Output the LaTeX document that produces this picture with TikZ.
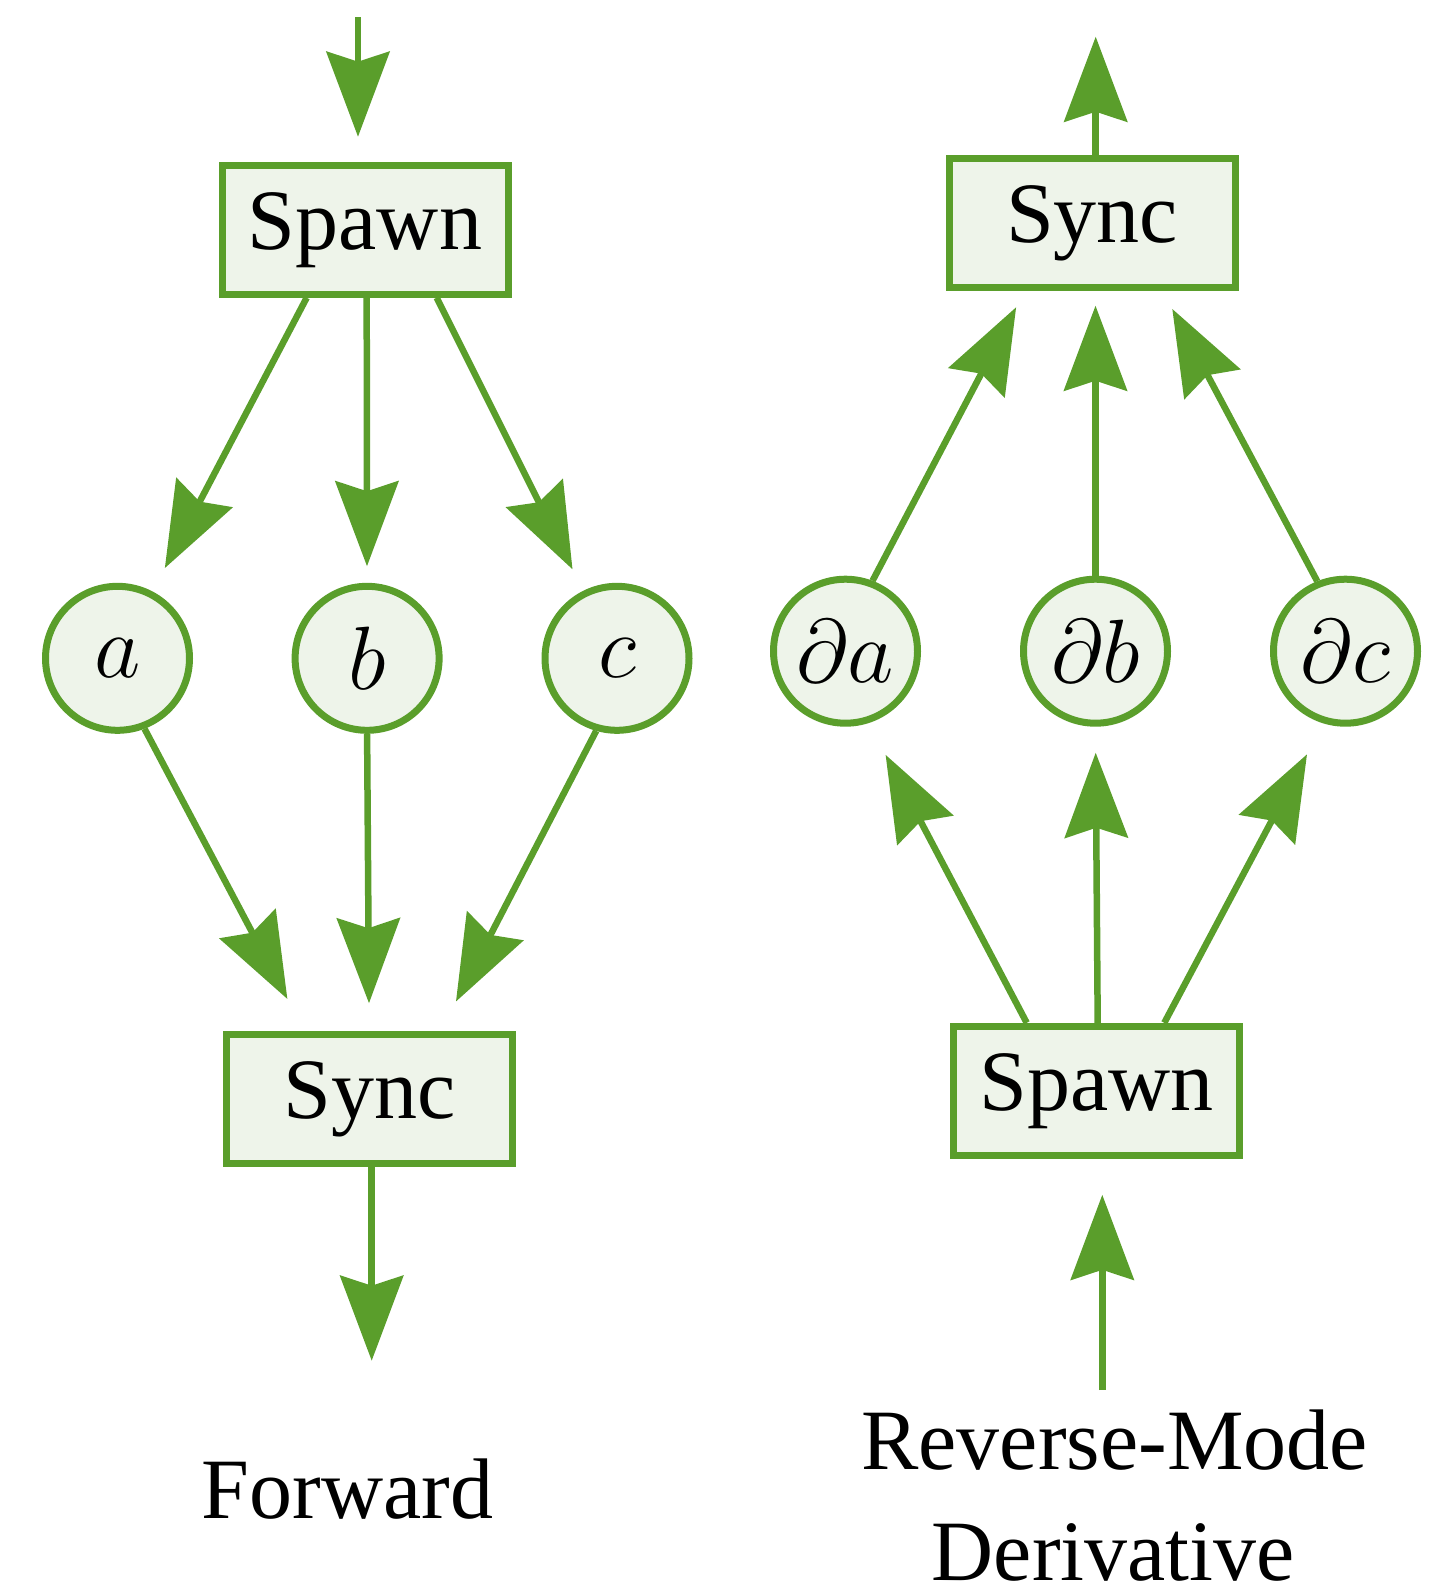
\RequirePackage{fix-cm}
\documentclass[tikz,border=0pt]{standalone}
\usepackage{fontspec}
\setmainfont{Liberation Serif}
\usetikzlibrary{arrows.meta,calc}
\definecolor{edgegreen}{RGB}{90,158,43}
\definecolor{boxfill}{RGB}{238,244,234}
\begin{document}
\begin{tikzpicture}[x=0.5pt,y=-0.5pt,
  boxnode/.style={draw=edgegreen,fill=boxfill,line width=3.5pt,rectangle,
    minimum width=143pt,minimum height=64.5pt,inner sep=0pt,
    font=\fontsize{43}{52}\selectfont},
  varnode/.style={draw=edgegreen,fill=boxfill,line width=3.5pt,circle,
    minimum size=72pt,inner sep=0pt,font=\fontsize{45}{54}\selectfont},
  arr/.style={draw=edgegreen,line width=3.25pt,
    -{Stealth[length=42.5pt,width=31.5pt,inset=5pt]}},
  caption/.style={anchor=base,inner sep=0pt,font=\fontsize{43}{52}\selectfont}]
\useasboundingbox (0,0) rectangle (1434,1586);

% ---------- Forward ----------
\node[boxnode] (spawnL) at (365,229.7) {Spawn};
\node[boxnode] (syncL) at (369.2,1098.8) {Sync};
\node[varnode] (a) at (117.5,658.3) {$a$};
\node[varnode] (b) at (367.1,658.3) {$b$};
\node[varnode] (c) at (617,658.3) {$c$};
\coordinate (topL) at (358,17);
\coordinate (botL) at (371.7,1360.7);
\node[caption] (fwd) at (347.5,1518.3) {Forward};

\draw[arr,shorten >=12.5pt] (topL) -- (topL |- spawnL.north);
\draw[arr,shorten >=13.2pt] ($(spawnL.south)+(-58.3,0)$) -- (a);
\draw[arr,shorten >=8.3pt] ($(spawnL.south)+(1.7,0)$) -- (b);
\draw[arr,shorten >=12pt] ($(spawnL.south)+(71.7,0)$) -- (c);
\draw[arr,shorten >=18pt] (a.-69) -- ($(syncL.north)+(-65,0)$);
\draw[arr,shorten >=13.8pt] (b.south) -- ($(syncL.north)+(0,0)$);
\draw[arr,shorten >=16.5pt] (c.-106) -- ($(syncL.north)+(71.6,0)$);
\draw[arr] (syncL.south -| botL) -- (botL);

% ---------- Reverse-Mode Derivative ----------
\node[boxnode] (syncR) at (1092,223.3) {Sync};
\node[boxnode] (spawnR) at (1096.7,1090.8) {Spawn};
\node[varnode] (da) at (845.5,651.2) {$\partial a$};
\node[varnode] (db) at (1095.5,651.2) {$\partial b$};
\node[varnode] (dc) at (1345.5,651.2) {$\partial c$};
\coordinate (topR) at (1095.7,36.7);
\coordinate (botR) at (1102.3,1390);
\node[caption] (rev1) at (1114.5,1469.3) {Reverse-Mode};
\node[caption] (rev2) at (1113.3,1580) {Derivative};

\draw[arr] (syncR.north -| topR) -- (topR);
\draw[arr,shorten >=9pt] (da.69.8) -- ($(syncR.south)+(-67.5,0)$);
\draw[arr,shorten >=7.2pt] (db.north) -- (db.north |- syncR.south);
\draw[arr,shorten >=10pt] (dc.112.6) -- ($(syncR.south)+(70.9,0)$);
\draw[arr,shorten >=18pt] ($(spawnR.north)+(-70,0)$) -- (da.-72.5);
\draw[arr,shorten >=13pt] ($(spawnR.north)+(1,0)$) -- (db.south);
\draw[arr,shorten >=17.5pt] ($(spawnR.north)+(67.6,0)$) -- (dc.-107.2);
\draw[arr,shorten >=18pt] (botR) -- (botR |- spawnR.south);
\end{tikzpicture}
\end{document}
